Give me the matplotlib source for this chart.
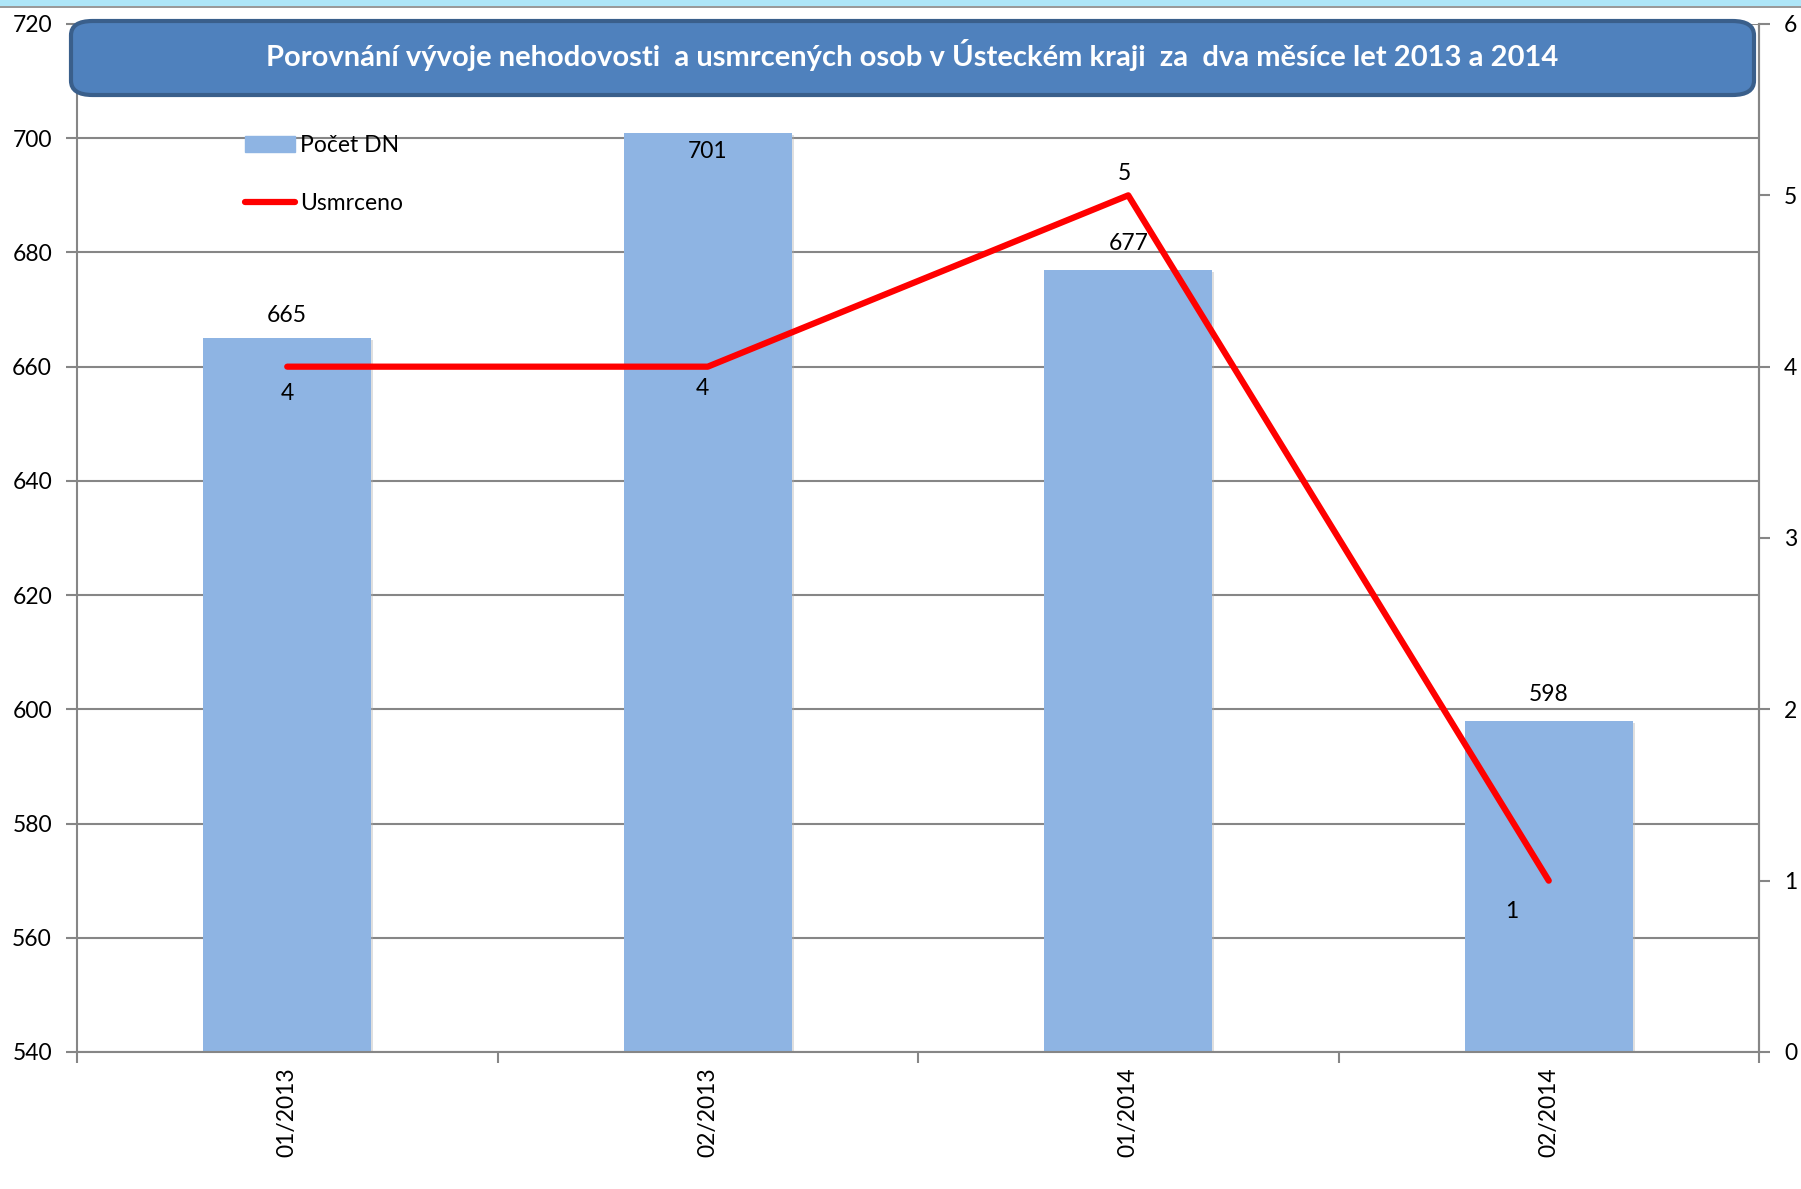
import matplotlib.pyplot as plt
import matplotlib.patheffects as pe
from matplotlib.patches import FancyBboxPatch, Rectangle
from matplotlib.lines import Line2D

plt.rcParams['font.family'] = ['Lato', 'DejaVu Sans']

# data
months = ['01/2013', '02/2013', '01/2014', '02/2014']
accidents = [665, 701, 677, 598]   # Počet DN
killed = [4, 4, 5, 1]              # Usmrceno
title = 'Porovnání vývoje nehodovosti  a usmrcených osob v Ústeckém kraji  za  dva měsíce let 2013 a 2014'

W, H = 1801, 1189
fig = plt.figure(figsize=(W / 100, H / 100), dpi=100)
ax = fig.add_axes([77 / W, 1 - 1052 / H, (1759 - 77) / W, (1052 - 24) / H])
ax2 = ax.twinx()

grey = '#868686'
fs = 16.5
xs = [i + 0.5 for i in range(len(months))]

# bars (left axis)
bars = ax.bar(xs, accidents, width=0.4, color='#8EB4E3', zorder=2)
for b in bars:
    b.set_path_effects([pe.SimplePatchShadow(offset=(1.5, -1.5), shadow_rgbFace='#b0b0b0', alpha=0.4),
                        pe.Normal()])
ax.set_xlim(0, 4)
ax.set_ylim(540, 720)
ax.set_yticks(range(540, 721, 20))
ax.yaxis.grid(True, color=grey, lw=1.5, zorder=0)
ax.set_axisbelow(True)

# line (right axis)
ax2.plot(xs, killed, color='#FF0000', lw=4.5, solid_capstyle='round', zorder=5)
ax2.set_ylim(0, 6)
ax2.set_yticks(range(0, 7))

# x ticks: marks between categories, labels in the middle
ax.set_xticks(range(0, 5))
ax.set_xticklabels([''] * 5)
ax.set_xticks(xs, minor=True)
ax.set_xticklabels(months, minor=True, rotation=90, fontsize=fs)
ax.tick_params(axis='x', which='minor', length=0, pad=11)
ax.tick_params(axis='x', which='major', length=8, width=1.5, color=grey)
ax.tick_params(axis='y', length=8, width=1.5, color=grey, labelsize=fs, pad=10)
ax2.tick_params(axis='y', length=8, width=1.5, color=grey, labelsize=fs, pad=10)

for a in (ax, ax2):
    a.spines['top'].set_visible(False)
    for s in ('left', 'right', 'bottom'):
        a.spines[s].set_color(grey)
        a.spines[s].set_linewidth(1.5)
ax2.spines['left'].set_visible(False)
ax2.spines['bottom'].set_visible(False)

# data labels
bar_offsets = [(0, 16), (0, -14), (0, 19), (0, 19)]
for x, v, off in zip(xs, accidents, bar_offsets):
    ax.annotate(str(v), (x, v), xytext=off, textcoords='offset points',
                ha='center', va='center', fontsize=fs, zorder=6)
line_offsets = [(0, -19), (-4, -16), (-2.5, 16), (-27, -22)]
for x, v, off in zip(xs, killed, line_offsets):
    ax2.annotate(str(v), (x, v), xytext=off, textcoords='offset points',
                 ha='center', va='center', fontsize=fs, zorder=6)

# legend
handles = [Rectangle((0, 0), 1, 1, color='#8EB4E3'),
           Line2D([], [], color='#FF0000', lw=4.5, solid_capstyle='round')]
ax2.legend(handles, ['Počet DN', 'Usmrceno'], loc='upper left',
           bbox_to_anchor=(245 / W, 1 - 135 / H), bbox_transform=fig.transFigure,
           frameon=False, fontsize=fs, handlelength=2.2, handletextpad=0.2,
           labelspacing=1.6, borderpad=0, borderaxespad=0)

# title box
box = FancyBboxPatch((71 / W, 1 - 95 / H), (1754 - 71) / W, (95 - 21) / H,
                     boxstyle='round,pad=0,rounding_size=0.012',
                     transform=fig.transFigure, facecolor='#4F81BD',
                     edgecolor='#3A5F8B', lw=3, zorder=10)
fig.patches.append(box)
fig.text(912 / W, 1 - 55 / H, title, color='white', fontsize=21, fontweight='bold',
         ha='center', va='center', zorder=11)

# light blue strip at the top
fig.patches.append(Rectangle((0, 1 - 6 / H), 1, 6 / H, transform=fig.transFigure,
                             facecolor='#AEE6F8', edgecolor='none'))
fig.patches.append(Rectangle((0, 1 - 8 / H), 1, 2 / H, transform=fig.transFigure,
                             facecolor='#9a9a9a', edgecolor='none'))

fig.savefig('out.png', dpi=100)
